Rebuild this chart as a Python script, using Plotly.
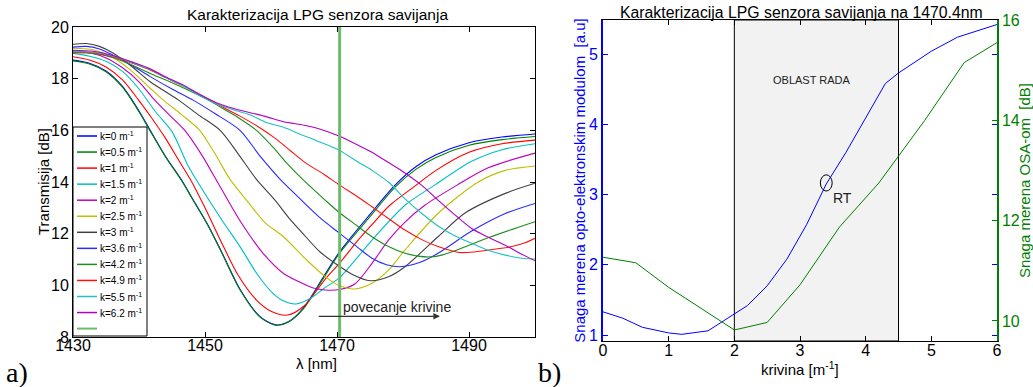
import plotly.graph_objects as go

W, H = 1033, 387
FONT = "Liberation Sans"

# ---------------- Panel a) data: transmission spectra ----------------
k_labels = ["k=0 m<sup>-1</sup>", "k=0.5 m<sup>-1</sup>", "k=1 m<sup>-1</sup>", "k=1.5 m<sup>-1</sup>",
            "k=2 m<sup>-1</sup>", "k=2.5 m<sup>-1</sup>", "k=3 m<sup>-1</sup>", "k=3.6 m<sup>-1</sup>",
            "k=4.2 m<sup>-1</sup>", "k=4.9 m<sup>-1</sup>", "k=5.5 m<sup>-1</sup>", "k=6.2 m<sup>-1</sup>"]
k_colors = ["#0000ff", "#008000", "#ff0000", "#00bfbf", "#bf00bf", "#bfbf00", "#404040",
            "#2a2aff", "#1e8c1e", "#ff1010", "#20c0c0", "#b000c0"]

lam_k0 = [1430, 1432.5, 1435, 1437.5, 1440, 1441.7, 1444, 1446.5, 1448, 1450.3, 1452.5, 1455.3, 1458.3,
          1460.7, 1462.7, 1465, 1468, 1470.4, 1475, 1478.8, 1482, 1485, 1490, 1495, 1500]
tr_k0 = [18.72, 18.6, 18.3, 17.7, 16.75, 16.0, 15.0, 14.06, 13.4, 12.4, 11.3, 9.85, 8.8,
         8.47, 8.6, 9.15, 10.35, 11.3, 12.75, 13.88, 14.6, 15.05, 15.52, 15.74, 15.86]

lam_k05 = lam_k0
tr_k05 = [18.69, 18.57, 18.27, 17.67, 16.72, 15.97, 14.98, 14.04, 13.38, 12.38, 11.28, 9.83, 8.78,
          8.46, 8.59, 9.12, 10.3, 11.25, 12.66, 13.8, 14.5, 14.95, 15.42, 15.64, 15.76]

lam_k1 = [1430, 1432.5, 1435, 1437.5, 1440, 1442, 1444, 1446, 1448, 1450, 1452.8, 1455, 1457.8, 1460,
          1462.5, 1465, 1468.4, 1470.2, 1473.2, 1475.3, 1478, 1482, 1485, 1490, 1495, 1500]
tr_k1 = [18.85, 18.72, 18.45, 17.95, 17.15, 16.45, 15.7, 14.85, 14.0, 13.0, 11.5, 10.4, 9.43, 9.0,
         8.85, 9.2, 10.3, 10.8, 11.75, 12.35, 13.1, 13.88, 14.45, 15.15, 15.48, 15.62]

lam_k15 = [1430, 1432.5, 1435, 1437.5, 1440, 1442.5, 1445, 1447.5, 1449.5, 1452.5, 1455.3, 1458, 1460.3,
           1462, 1463.8, 1466, 1468, 1470.4, 1473, 1475.3, 1480.3, 1484.8, 1490.4, 1495, 1500]
tr_k15 = [18.98, 18.87, 18.67, 18.28, 17.6, 16.72, 15.95, 14.6, 13.75, 12.55, 11.5, 10.4, 9.69,
          9.38, 9.28, 9.5, 9.88, 10.3, 11.05, 11.75, 13.1, 13.88, 14.8, 15.25, 15.48]

lam_k2 = [1430, 1432.5, 1435, 1437.5, 1440, 1442, 1444.5, 1447, 1449.5, 1452, 1455.3, 1458.8, 1461.9,
          1464.4, 1466.4, 1468.2, 1470.4, 1472.7, 1475.3, 1477.8, 1480.3, 1483.3, 1488.2, 1492.9, 1500]
tr_k2 = [19.08, 19.0, 18.8, 18.42, 17.88, 17.28, 16.62, 15.98, 15.05, 13.95, 12.5, 11.24, 10.46,
         10.12, 9.9, 9.82, 9.84, 10.05, 10.85, 11.75, 12.45, 13.1, 13.88, 14.55, 15.12]

lam_k25 = [1430, 1433, 1436, 1438.5, 1441.7, 1443.7, 1446.5, 1449.2, 1451.5, 1453.8, 1456.6, 1459,
           1461.9, 1465.4, 1468.4, 1470.5, 1472.7, 1475.3, 1477.8, 1480.3, 1485.3, 1491.4, 1495.5, 1500]
tr_k25 = [19.18, 19.12, 18.82, 18.38, 17.63, 17.17, 16.6, 16.0, 15.1, 14.1, 13.2, 12.45,
          11.88, 10.98, 10.3, 9.97, 9.86, 10.08, 10.59, 11.37, 12.78, 14.0, 14.45, 14.62]

lam_k3 = [1430, 1432, 1434, 1436, 1439, 1441.7, 1446, 1449, 1452.3, 1455, 1457.8, 1460.6, 1462.9,
          1465.2, 1467.4, 1470.3, 1472.5, 1475, 1477.8, 1480.3, 1485.3, 1489.4, 1495.5, 1500]
tr_k3 = [19.33, 19.36, 19.25, 19.0, 18.45, 17.88, 17.17, 16.6, 16.0, 15.1, 14.1, 13.3, 12.55,
         11.9, 11.3, 10.75, 10.4, 10.18, 10.33, 10.72, 11.88, 12.8, 13.56, 13.95]

lam_k36 = [1430, 1432, 1434, 1436, 1439, 1441.7, 1445, 1448.2, 1451.5, 1455.3, 1458.5, 1461.4, 1464.6,
           1467.5, 1470.2, 1473, 1475.3, 1477.5, 1479.5, 1482.5, 1485.3, 1490.4, 1495.5, 1500]
tr_k36 = [19.22, 19.25, 19.15, 18.92, 18.5, 18.08, 17.6, 17.17, 16.65, 16.0, 14.95, 14.1, 13.3,
          12.6, 12.05, 11.5, 11.05, 10.8, 10.72, 10.88, 11.24, 12.1, 12.78, 13.17]

lam_k42 = [1430, 1433, 1436, 1439, 1441.7, 1444.5, 1447.5, 1450.5, 1453, 1455.3, 1457.8, 1460.3, 1462.5,
           1465, 1468.2, 1470.2, 1472.8, 1475.3, 1477.8, 1480.3, 1482.3, 1484.2, 1486, 1488, 1490.5,
           1493, 1497.5, 1500]
tr_k42 = [19.0, 18.98, 18.82, 18.52, 18.2, 17.9, 17.55, 17.17, 16.8, 16.45, 16.0, 15.35, 14.7,
          14.05, 13.3, 12.85, 12.35, 11.88, 11.5, 11.24, 11.13, 11.1, 11.18, 11.35, 11.6,
          11.85, 12.25, 12.46]

lam_k49 = [1430, 1433, 1436, 1439, 1441.7, 1444, 1446.7, 1449.2, 1451.8, 1455.3, 1458, 1460.6, 1463,
           1465.2, 1468, 1470.4, 1473, 1475.3, 1478, 1480.3, 1483, 1485.3, 1488.5, 1491, 1493, 1496.5,
           1498.5, 1500]
tr_k49 = [19.02, 19.0, 18.85, 18.6, 18.34, 18.04, 17.72, 17.38, 17.02, 16.55, 16.15, 15.7, 15.2,
          14.75, 14.3, 13.88, 13.45, 13.04, 12.55, 12.14, 11.75, 11.5, 11.27, 11.3, 11.37, 11.5,
          11.65, 11.82]

lam_k55 = [1430, 1433, 1436, 1439, 1441.7, 1444, 1446.7, 1449, 1451.8, 1454, 1456.8, 1459.3, 1461.9,
           1464.4, 1466.9, 1470.4, 1473, 1475.3, 1478, 1480.3, 1483, 1485.3, 1488, 1490.4, 1493, 1495.5,
           1498, 1500]
tr_k55 = [19.05, 19.02, 18.88, 18.62, 18.36, 18.05, 17.72, 17.38, 17.02, 16.82, 16.6, 16.3, 16.12,
          15.85, 15.6, 15.22, 14.8, 14.45, 13.95, 13.35, 12.75, 12.3, 11.9, 11.63, 11.35, 11.17,
          11.05, 11.02]

lam_k62 = [1430, 1433, 1436, 1439, 1441.7, 1444, 1446.7, 1449, 1451.8, 1455, 1459, 1461.9, 1465, 1467,
           1470.4, 1473, 1475.3, 1477.5, 1480, 1482.8, 1485.3, 1488, 1490.4, 1493, 1495.5, 1498, 1500]
tr_k62 = [19.1, 19.06, 18.9, 18.64, 18.38, 18.07, 17.76, 17.42, 17.06, 16.8, 16.55, 16.33, 16.2, 16.08,
          15.77, 15.45, 15.15, 14.8, 14.4, 13.88, 13.3, 12.7, 12.2, 11.85, 11.55, 11.2, 10.95]

lam_marker = 1470.4  # measuring wavelength (green vertical line)

# ---------------- Panel b) data ----------------
kriv_opto = [0, 0.3, 0.6, 1.0, 1.2, 1.6, 2.0, 2.2, 2.5, 2.8, 3.1, 3.4, 3.7, 4.0, 4.3, 4.5, 5.0, 5.4, 6.0]
snaga_opto = [1.33, 1.24, 1.11, 1.03, 1.01, 1.06, 1.30, 1.42, 1.70, 2.08, 2.57, 3.15, 3.6, 4.1, 4.58,
              4.73, 5.04, 5.24, 5.42]
kriv_osa = [0, 0.5, 1.0, 1.5, 2.0, 2.5, 3.0, 3.6, 4.2, 4.9, 5.5, 6.0]
snaga_osa = [11.27, 11.16, 10.67, 10.25, 9.82, 9.97, 10.72, 11.87, 12.75, 14.0, 15.15, 15.55]
oblast_rada = [2.0, 4.5]

spectra = [(lam_k0, tr_k0), (lam_k05, tr_k05), (lam_k1, tr_k1), (lam_k15, tr_k15), (lam_k2, tr_k2),
           (lam_k25, tr_k25), (lam_k3, tr_k3), (lam_k36, tr_k36), (lam_k42, tr_k42), (lam_k49, tr_k49),
           (lam_k55, tr_k55), (lam_k62, tr_k62)]

def px(x):
    return x / W

def py(y):
    return 1 - y / H

fig = go.Figure()

for (lx, ty), name, col in zip(spectra, k_labels, k_colors):
    fig.add_trace(go.Scatter(x=lx, y=ty, mode="lines", name=name, showlegend=False,
                             line=dict(color=col, width=1.1, shape="spline", smoothing=0.8),
                             xaxis="x", yaxis="y"))

line_green = "#6dbb6d"
fig.add_trace(go.Scatter(x=[lam_marker, lam_marker], y=[8, 20], mode="lines", showlegend=False,
                         line=dict(color=line_green, width=3), xaxis="x", yaxis="y"))

fig.add_trace(go.Scatter(x=kriv_opto, y=snaga_opto, mode="lines", showlegend=False,
                         line=dict(color="#0000ff", width=1), xaxis="x2", yaxis="y2"))
fig.add_trace(go.Scatter(x=kriv_osa, y=snaga_osa, mode="lines", showlegend=False,
                         line=dict(color="#008000", width=1), xaxis="x2", yaxis="y3"))

tickfont = dict(family=FONT, size=16, color="black")
common = dict(showline=True, linecolor="black", linewidth=1, ticks="inside", ticklen=5,
              tickcolor="black", showgrid=False, zeroline=False, mirror="ticks", tickfont=tickfont,
              automargin=False)

fig.update_layout(
    width=W, height=H, margin=dict(l=0, r=0, t=0, b=0, autoexpand=False),
    paper_bgcolor="white", plot_bgcolor="white", showlegend=False,
    font=dict(family=FONT, color="black"),
    xaxis=dict(domain=[px(73), px(535)], range=[1430, 1500], tickvals=[1430, 1450, 1470, 1490],
               ticklabelstandoff=-6, anchor="y", **common),
    yaxis=dict(domain=[py(337), py(27)], range=[8, 20], dtick=2,
               anchor="x", **common),
    xaxis2=dict(domain=[px(603), px(997)], range=[0, 6], dtick=1,
                ticklabelstandoff=-5, anchor="y2", **common),
    yaxis2=dict(domain=[py(341), py(20)], range=[0.915, 5.484], tickvals=[1, 2, 3, 4, 5],
                showline=True, linecolor="#0000ff", linewidth=2, ticks="inside", ticklen=5,
                tickcolor="#0000ff", showgrid=False, zeroline=False, mirror="ticks", automargin=False,
                tickfont=dict(family=FONT, size=16, color="#0000ff"),
                title=dict(text="Snaga merena opto-elektronskim modulom  [a.u]",
                           font=dict(family=FONT, size=15, color="#0000ff"), standoff=0),
                anchor="x2"),
    yaxis3=dict(domain=[py(341), py(20)], range=[9.6, 16], tickvals=[10, 12, 14, 16],
                overlaying="y2", side="right", anchor="x2", automargin=False,
                showline=True, linecolor="#008000", linewidth=1.5, ticks="inside", ticklen=5,
                tickcolor="#008000", showgrid=False, zeroline=False,
                tickfont=dict(family=FONT, size=16, color="#008000"),
                title=dict(text="Snaga merena OSA-om  [dB]",
                           font=dict(family=FONT, size=15, color="#008000"), standoff=2)),
)

shapes = []
# working region
shapes.append(dict(type="rect", xref="x2", yref="y2 domain", x0=oblast_rada[0], x1=oblast_rada[1],
                   y0=0, y1=1, fillcolor="#f2f2f2", line=dict(color="black", width=1), layer="below"))
# RT ellipse
shapes.append(dict(type="circle", xref="x2", yref="y2", x0=3.31, x1=3.49, y0=3.05, y1=3.28,
                   line=dict(color="black", width=1)))

# manual legend box (MATLAB style)
lg_left, lg_right, lg_top, lg_bottom = 73, 147, 127, 336
shapes.append(dict(type="rect", xref="paper", yref="paper", x0=px(lg_left), x1=px(lg_right),
                   y0=py(lg_bottom), y1=py(lg_top), fillcolor="white",
                   line=dict(color="black", width=1), layer="above"))
annotations = []
entry_cols = k_colors + [line_green]
entry_txt = k_labels + [""]
for i, (c, t) in enumerate(zip(entry_cols, entry_txt)):
    yy = 136 + i * 16.05
    shapes.append(dict(type="line", xref="paper", yref="paper", x0=px(77), x1=px(97),
                       y0=py(yy), y1=py(yy), line=dict(color=c, width=1.5 if i < 12 else 2),
                       layer="above"))
    if t:
        annotations.append(dict(xref="paper", yref="paper", x=px(98), y=py(yy), text=t,
                                showarrow=False, xanchor="left", yanchor="middle",
                                font=dict(family=FONT, size=10, color="black")))

# axis titles (placed like the MATLAB original)
annotations.append(dict(xref="paper", yref="paper", x=px(316), y=py(363), text="λ [nm]", showarrow=False,
                        xanchor="center", yanchor="middle", font=dict(family=FONT, size=15, color="black")))
annotations.append(dict(xref="paper", yref="paper", x=px(43), y=py(182), text="Transmisija [dB]",
                        showarrow=False, textangle=-90, xanchor="center", yanchor="middle",
                        font=dict(family=FONT, size=15, color="black")))
annotations.append(dict(xref="paper", yref="paper", x=px(800), y=py(368), text="krivina [m<sup>-1</sup>]",
                        showarrow=False, xanchor="center", yanchor="middle",
                        font=dict(family=FONT, size=15, color="black")))

# titles
annotations.append(dict(xref="paper", yref="paper", x=px(317), y=py(15), text="Karakterizacija LPG senzora savijanja",
                        showarrow=False, xanchor="center", yanchor="middle",
                        font=dict(family=FONT, size=15.5, color="black")))
annotations.append(dict(xref="paper", yref="paper", x=px(801), y=py(12),
                        text="Karakterizacija LPG senzora savijanja na 1470.4nm",
                        showarrow=False, xanchor="center", yanchor="middle",
                        font=dict(family=FONT, size=15.8, color="black")))
# arrow & text in panel a
annotations.append(dict(xref="x", yref="y", x=1485.6, y=8.8, ax=1467.0, ay=8.8, axref="x", ayref="y",
                        text="", showarrow=True, arrowhead=2, arrowsize=1, arrowwidth=1.3,
                        arrowcolor="#333333"))
annotations.append(dict(xref="x", yref="y", x=1470.6, y=9.16, text="povecanje krivine", showarrow=False,
                        xanchor="left", yanchor="middle", font=dict(family=FONT, size=14, color="#222222")))
# panel b texts
annotations.append(dict(xref="x2", yref="y2", x=3.18, y=4.63, text="OBLAST RADA", showarrow=False,
                        font=dict(family=FONT, size=11, color="#222222")))
annotations.append(dict(xref="x2", yref="y2", x=3.64, y=2.95, text="RT", showarrow=False,
                        font=dict(family=FONT, size=14, color="#222222")))
# panel letters
annotations.append(dict(xref="paper", yref="paper", x=px(4), y=py(372), text="a)", showarrow=False,
                        xanchor="left", yanchor="middle", font=dict(family="Liberation Serif", size=28, color="black")))
annotations.append(dict(xref="paper", yref="paper", x=px(536), y=py(372), text="b)", showarrow=False,
                        xanchor="left", yanchor="middle", font=dict(family="Liberation Serif", size=28, color="black")))

fig.update_layout(shapes=shapes, annotations=annotations)
fig.write_html("out.html")
